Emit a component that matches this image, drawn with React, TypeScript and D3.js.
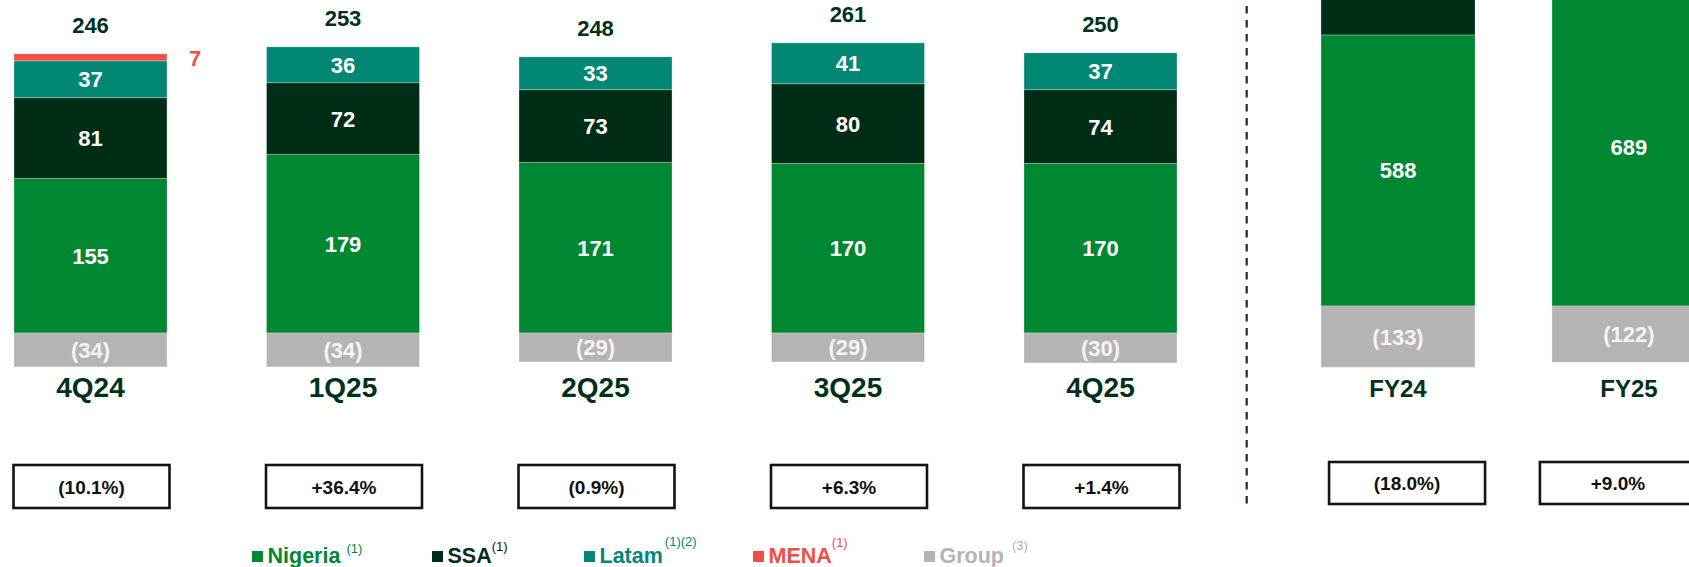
import React, { useEffect, useRef } from "react";
import * as d3 from "d3";

// quarterly values
const quarters = ["4Q24", "1Q25", "2Q25", "3Q25", "4Q25"];
const nigeriaQ = [155, 179, 171, 170, 170];
const ssaQ = [81, 72, 73, 80, 74];
const latamQ = [37, 36, 33, 41, 37];
const menaQ = [7, 0, 0, 0, 0];
const groupQ = [-34, -34, -29, -29, -30];
const totalQ = [246, 253, 248, 261, 250];
const growthQ = ["(10.1%)", "+36.4%", "(0.9%)", "+6.3%", "+1.4%"];

// full year values (upper segments run past the top of the slide, estimated)
const years = ["FY24", "FY25"];
const nigeriaFY = [588, 689];
const ssaFY = [310, 299];
const latamFY = [150, 147];
const menaFY = [30, 0];
const groupFY = [-133, -122];
const growthFY = ["(18.0%)", "+9.0%"];

const seriesKeys = ["Nigeria", "SSA", "Latam", "MENA", "Group"];
const legendNotes = ["(1)", "(1)", "(1)(2)", "(1)", "(3)"];

const W = 1689;
const H = 567;
const FONT = "'Liberation Sans', Arial, Helvetica, sans-serif";

const colors: Record<string, string> = {
  Nigeria: "#008732",
  SSA: "#012d16",
  Latam: "#038775",
  MENA: "#f04f46",
  Group: "#b6b3b4",
};
const darkText = "#00321a";

type Row = { cat: string; [k: string]: number | string };

const makeRows = (cats: string[], n: number[], s: number[], l: number[], m: number[], g: number[]): Row[] =>
  cats.map((cat, i) => ({ cat, Nigeria: n[i], SSA: s[i], Latam: l[i], MENA: m[i], Group: g[i] }));

const App: React.FC = () => {
  const svgRef = useRef<SVGSVGElement | null>(null);

  useEffect(() => {
    if (!svgRef.current) return;
    const svg = d3.select(svgRef.current);
    svg.selectAll("*").remove();

    const stack = d3
      .stack<Row>()
      .keys(seriesKeys)
      .value((d, k) => d[k] as number)
      .offset(d3.stackOffsetDiverging);

    const drawPanel = (
      rows: Row[],
      x: d3.ScaleBand<string>,
      y: d3.ScaleLinear<number, number>,
      totals: number[] | null,
      labelSize: number
    ) => {
      const g = svg.append("g");
      const layers = stack(rows);

      layers.forEach((layer) => {
        const key = layer.key;
        g.append("g")
          .selectAll("rect")
          .data(layer.filter((d) => d[1] !== d[0]))
          .enter()
          .append("rect")
          .attr("x", (d) => x(d.data.cat)!)
          .attr("y", (d) => y(Math.max(d[0], d[1])))
          .attr("width", x.bandwidth())
          .attr("height", (d) => Math.abs(y(d[0]) - y(d[1])))
          .attr("fill", colors[key])
          .attr("stroke", "rgba(255,255,255,0.35)")
          .attr("stroke-width", 0.8);

        // segment values (skip the ones that sit above the slide crop)
        layer.forEach((d) => {
          const v = d.data[key] as number;
          if (!v) return;
          const cx = x(d.data.cat)! + x.bandwidth() / 2;
          const cy = (y(d[0]) + y(d[1])) / 2;
          if (cy < 14) return;
          if (key === "MENA") {
            g.append("text")
              .attr("x", x(d.data.cat)! + x.bandwidth() + 28)
              .attr("y", cy + 9)
              .attr("text-anchor", "middle")
              .attr("font-family", FONT)
              .attr("font-weight", "bold")
              .attr("font-size", 22)
              .attr("fill", colors.MENA)
              .text(v);
            return;
          }
          g.append("text")
            .attr("x", cx)
            .attr("y", cy + 8)
            .attr("text-anchor", "middle")
            .attr("font-family", FONT)
            .attr("font-weight", "bold")
            .attr("font-size", 22)
            .attr("fill", key === "Group" ? "#f4f4f4" : "#ffffff")
            .text(v < 0 ? `(${-v})` : v);
        });
      });

      // totals above bars
      if (totals) {
        rows.forEach((r, i) => {
          const top = d3.max(layers, (l) => l[i][1]) as number;
          g.append("text")
            .attr("x", x(r.cat)! + x.bandwidth() / 2)
            .attr("y", y(top) - 21)
            .attr("text-anchor", "middle")
            .attr("font-family", FONT)
            .attr("font-weight", "bold")
            .attr("font-size", 22)
            .attr("fill", darkText)
            .text(totals[i]);
        });
      }

      // category labels
      rows.forEach((r) => {
        g.append("text")
          .attr("x", x(r.cat)! + x.bandwidth() / 2)
          .attr("y", 397)
          .attr("text-anchor", "middle")
          .attr("font-family", FONT)
          .attr("font-weight", "bold")
          .attr("font-size", labelSize)
          .attr("fill", darkText)
          .text(r.cat);
      });
    };

    const drawBoxes = (labels: string[], centers: number[], top: number, bottom: number) => {
      const g = svg.append("g");
      labels.forEach((t, i) => {
        g.append("rect")
          .attr("x", centers[i] - 78)
          .attr("y", top)
          .attr("width", 156)
          .attr("height", bottom - top)
          .attr("fill", "#ffffff")
          .attr("stroke", "#141414")
          .attr("stroke-width", 2.6);
        g.append("text")
          .attr("x", centers[i])
          .attr("y", (top + bottom) / 2 + 7)
          .attr("text-anchor", "middle")
          .attr("font-family", FONT)
          .attr("font-weight", "bold")
          .attr("font-size", 19)
          .attr("fill", "#111111")
          .text(t);
      });
    };

    // quarterly panel
    const xQ = d3.scaleBand<string>().domain(quarters).range([14, 1177]).paddingInner(0.394).paddingOuter(0);
    const yQ = d3.scaleLinear().domain([0, 300]).range([333, 333 - 300 * 0.997]);
    drawPanel(makeRows(quarters, nigeriaQ, ssaQ, latamQ, menaQ, groupQ), xQ, yQ, totalQ, 28);
    drawBoxes(growthQ, quarters.map((q) => xQ(q)! + xQ.bandwidth() / 2 + 1), 465, 508);

    // full-year panel
    const xFY = d3.scaleBand<string>().domain(years).range([1321, 1706]).paddingInner(0.333).paddingOuter(0);
    const yFY = d3.scaleLinear().domain([0, 600]).range([306, 306 - 600 * 0.461]);
    drawPanel(makeRows(years, nigeriaFY, ssaFY, latamFY, menaFY, groupFY), xFY, yFY, null, 24);
    const xBoxFY = d3.scaleBand<string>().domain(years).range([1328, 1697]).paddingInner(0.25).paddingOuter(0);
    drawBoxes(growthFY, years.map((y) => xBoxFY(y)! + xBoxFY.bandwidth() / 2), 462, 504);

    // divider
    svg
      .append("line")
      .attr("x1", 1246.7)
      .attr("x2", 1246.7)
      .attr("y1", 6)
      .attr("y2", 504)
      .attr("stroke", "#0b3a20")
      .attr("stroke-width", 2.2)
      .attr("stroke-dasharray", "7.5 6.5");

    // legend
    const legendX = [252, 432, 584, 753, 924];
    const noteRise = [10, 12, 17, 16, 13];
    const noteGap = [6, 0, 2, 0, 8];
    const lg = svg.append("g");
    seriesKeys.forEach((k, i) => {
      const c = colors[k];
      lg.append("rect")
        .attr("x", legendX[i])
        .attr("y", 551)
        .attr("width", 11)
        .attr("height", 11)
        .attr("fill", colors[k]);
      const t = lg
        .append("text")
        .attr("x", legendX[i] + 15.5)
        .attr("y", 563)
        .attr("font-family", FONT)
        .attr("font-weight", "bold")
        .attr("font-size", 21.5)
        .attr("fill", c)
        .text(k);
      const w = (t.node() as SVGTextElement).getComputedTextLength();
      lg.append("text")
        .attr("x", legendX[i] + 15.5 + w + noteGap[i])
        .attr("y", 563 - noteRise[i])
        .attr("font-family", FONT)
        .attr("font-size", 13)
        .attr("fill", k === "SSA" ? "#111111" : c)
        .text(legendNotes[i]);
    });
  }, []);

  return (
    <svg
      ref={svgRef}
      width={W}
      height={H}
      style={{ position: "absolute", left: 0, top: 0, background: "#ffffff" }}
    />
  );
};

export default App;
